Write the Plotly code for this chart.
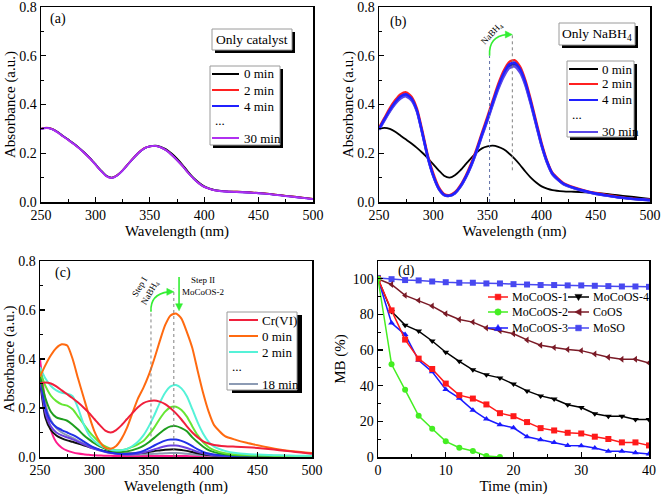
import plotly.graph_objects as go

# Canvas 661x495; the page's default body margin is removed after plotting (post_script),
# so layout positions below are given directly in canvas pixels.
W, H = 661, 495
OX, OY = 0, 0
FW, FH = W - OX, H - OY
FONT = "Liberation Serif, Times New Roman, DejaVu Serif, serif"

# ---------------- data ----------------
wl = [250, 255, 260, 265, 270, 275, 280, 285, 290, 295, 300, 305, 310, 315, 320, 325, 330, 335, 340, 345,
      350, 355, 360, 365, 370, 375, 380, 385, 390, 395, 400, 405, 410, 420, 430, 440, 450, 460, 470, 480, 490, 500]

# (a) only catalyst
a_0min = [.300, .304, .300, .288, .272, .256, .240, .222, .202, .180, .155, .130, .108, .100, .110, .130, .155, .180, .203, .220,
          .228, .231, .226, .216, .199, .178, .153, .125, .100, .080, .064, .055, .049, .044, .042, .040, .037, .033, .028, .023, .018, .013]
a_2min = [.301, .305, .300, .287, .271, .255, .239, .221, .201, .179, .154, .129, .107, .099, .110, .130, .156, .181, .204, .221,
          .228, .230, .224, .212, .194, .172, .148, .121, .097, .077, .062, .054, .048, .044, .042, .040, .037, .033, .028, .023, .018, .013]
a_4min = [.300, .304, .299, .287, .271, .255, .239, .221, .201, .179, .154, .129, .107, .099, .109, .129, .155, .180, .203, .220,
          .228, .230, .224, .212, .194, .172, .148, .121, .097, .077, .062, .054, .048, .043, .041, .039, .036, .032, .027, .022, .017, .012]
a_30min = [.300, .303, .299, .286, .270, .254, .238, .220, .200, .178, .153, .128, .106, .099, .109, .129, .155, .180, .203, .220,
           .228, .230, .224, .212, .194, .172, .148, .121, .097, .077, .062, .054, .048, .043, .041, .039, .036, .032, .027, .022, .017, .012]
a_labels = ["0 min", "2 min", "4 min", "...", "30 min"]
a_colors = ["black", "#FF2020", "#2020FF", None, "#B030F0"]

# (b) only NaBH4
b_0min = a_0min
b_2min = [.305, .345, .385, .418, .442, .450, .432, .383, .292, .192, .118, .062, .033, .028, .040, .068, .108, .158, .218, .285,
          .350, .418, .484, .538, .574, .582, .556, .500, .420, .330, .242, .170, .120, .078, .060, .047, .037, .029, .022, .016, .012, .009]
b_4min = [.300, .340, .378, .410, .434, .442, .425, .376, .284, .186, .110, .057, .030, .026, .037, .064, .103, .152, .212, .278,
          .342, .410, .475, .528, .564, .572, .547, .492, .412, .323, .236, .166, .117, .076, .058, .045, .035, .027, .020, .015, .011, .008]
b_mid = [.298, .337, .374, .406, .430, .438, .420, .373, .281, .183, .108, .055, .029, .025, .036, .062, .101, .150, .208, .274,
         .337, .404, .468, .520, .556, .564, .540, .485, .406, .318, .232, .163, .115, .074, .057, .044, .034, .026, .019, .014, .010, .007]
b_30min = [.296, .334, .371, .402, .425, .433, .416, .370, .278, .181, .106, .054, .028, .025, .035, .061, .099, .147, .205, .270,
           .333, .399, .462, .513, .548, .556, .532, .479, .401, .314, .229, .161, .113, .073, .056, .043, .033, .026, .019, .014, .010, .007]
b_labels = ["0 min", "2 min", "4 min", "...", "30 min"]
b_colors = ["black", "#FF2020", "#2020FF", None, "#5A48E8"]

# (c) Cr(VI) reduction with NaBH4 + MoCoOS-2
c_cr = a_0min
c_0min = [.328, .375, .415, .445, .460, .455, .400, .320, .245, .170, .105, .062, .038, .034, .045, .075, .120, .180, .238, .282,
          .335, .400, .472, .538, .578, .586, .565, .510, .445, .350, .260, .185, .130, .085, .070, .058, .048, .039, .031, .025, .020, .016]
c_2min = [.367, .320, .290, .272, .262, .258, .248, .200, .135, .090, .065, .048, .037, .030, .027, .028, .033, .045, .062, .088,
          .125, .170, .220, .262, .288, .294, .280, .248, .195, .140, .095, .062, .042, .025, .016, .012, .010, .008, .007, .006, .005, .005]
c_4min = [.350, .290, .250, .228, .215, .210, .195, .165, .135, .105, .080, .058, .043, .033, .028, .028, .033, .042, .052, .065,
          .090, .120, .155, .185, .203, .205, .192, .165, .125, .088, .060, .040, .028, .015, .010, .008, .007, .006, .005, .004, .004, .004]
c_6min = [.330, .240, .185, .162, .155, .148, .132, .112, .090, .072, .056, .043, .033, .026, .022, .021, .023, .028, .035, .045,
          .060, .078, .097, .114, .125, .126, .118, .105, .080, .060, .042, .028, .020, .011, .007, .006, .005, .005, .004, .004, .003, .003]
c_8min = [.330, .200, .145, .122, .110, .100, .090, .078, .064, .050, .038, .029, .022, .017, .014, .012, .012, .014, .018, .025,
          .035, .047, .058, .067, .071, .071, .066, .057, .044, .031, .021, .014, .010, .006, .004, .004, .003, .003, .003, .003, .003, .003]
c_10min = [.320, .180, .125, .100, .088, .080, .072, .062, .052, .042, .033, .026, .020, .016, .013, .011, .010, .011, .013, .018,
           .024, .031, .038, .044, .047, .047, .043, .037, .029, .021, .015, .010, .007, .004, .003, .003, .003, .002, .002, .002, .002, .002]
c_12min = [.310, .160, .110, .088, .076, .068, .062, .055, .048, .041, .035, .029, .024, .020, .017, .015, .014, .014, .015, .017,
           .020, .024, .027, .030, .031, .031, .029, .025, .020, .015, .011, .008, .006, .004, .003, .002, .002, .002, .002, .002, .002, .002]
c_18min = [.330, .210, .150, .118, .100, .088, .078, .066, .055, .045, .036, .029, .023, .018, .015, .012, .011, .010, .010, .011,
           .012, .013, .014, .015, .016, .016, .015, .013, .011, .009, .007, .006, .005, .004, .003, .003, .003, .003, .003, .003, .003, .003]
c_pink = [.400, .220, .110, .060, .038, .026, .019, .014, .011, .009, .007, .006, .005, .005, .004, .004, .004, .004, .004, .004,
          .004, .004, .004, .004, .004, .004, .004, .004, .003, .003, .003, .003, .003, .003, .003, .002, .002, .002, .002, .002, .002, .002]
c_labels = ["Cr(VI)", "0 min", "2 min", "...", "18 min"]
c_colors = ["#F0203C", "#FF6A10", "#55F2D8", None, "#8C9BB4"]

# (d) MB degradation
t = [0, 2, 4, 6, 8, 10, 12, 14, 16, 18, 20, 22, 24, 26, 28, 30, 32, 34, 36, 38, 40]
mb1 = [100, 82.3, 65.9, 55.2, 49.4, 41.2, 34.7, 32.8, 29.5, 24.6, 22.9, 19.6, 16.2, 14.9, 13.6, 13.2, 11.4, 10.1, 8.2, 8.2, 6.5]
mb2 = [100, 52.0, 37.7, 23.1, 15.9, 8.8, 5.2, 3.4, 0.6, 0.0]
mb3 = [100, 75.2, 68.7, 54.3, 47.8, 37.9, 33.0, 26.3, 21.3, 18.1, 16.4, 11.4, 9.7, 8.2, 6.5, 6.3, 5.0, 3.2, 3.2, 2.4, 1.7]
mb4 = [100, 81.7, 74.0, 70.7, 65.1, 58.8, 53.7, 48.9, 46.1, 44.4, 40.9, 37.1, 34.3, 32.5, 29.3, 27.8, 24.3, 22.9, 22.9, 21.1, 21.1]
coos = [100, 96.8, 90.7, 87.9, 84.7, 80.4, 77.2, 75.7, 72.4, 70.9, 69.2, 65.7, 62.7, 61.4, 60.3, 59.7, 57.8, 56.0, 54.9, 54.9, 52.8]
moso = [100.5, 99.8, 99.3, 99.1, 98.5, 98.1, 97.8, 97.8, 97.4, 97.4, 97.0, 96.8, 96.5, 96.5, 96.3, 96.3, 96.1, 95.9, 95.7, 95.7, 95.5]
d_names = ["MoCoOS-1", "MoCoOS-2", "MoCoOS-3", "MoCoOS-4", "CoOS", "MoSO"]
d_colors = ["#FF1A1A", "#44EE22", "#1A1AFF", "black", "#7A1A26", "#4848F0"]
d_symbols = ["square", "circle", "triangle-up", "triangle-down", "triangle-left", "square"]


def px(x):
    return (x - OX) / FW


def py(y):
    return 1 - (y - OY) / FH


fig = go.Figure()


def spec(x, y, name, color, xa, ya, width=1.8):
    fig.add_trace(go.Scatter(x=x, y=y, mode="lines", name=name, showlegend=False,
                             line=dict(color=color, width=width, shape="spline", smoothing=0.6),
                             xaxis=xa, yaxis=ya))


# (a)
spec(wl, a_0min, a_labels[0], a_colors[0], "x", "y")
spec(wl, a_2min, a_labels[1], a_colors[1], "x", "y")
spec(wl, a_4min, a_labels[2], a_colors[2], "x", "y")
spec(wl, a_30min, a_labels[4], a_colors[4], "x", "y")

# (b)
spec(wl, b_0min, b_labels[0], b_colors[0], "x2", "y2")
spec(wl, b_2min, b_labels[1], b_colors[1], "x2", "y2", width=2.4)
spec(wl, b_mid, "intermediate", "#2828B0", "x2", "y2", width=2.4)
spec(wl, b_30min, b_labels[4], b_colors[4], "x2", "y2", width=2.4)
spec(wl, b_4min, b_labels[2], b_colors[2], "x2", "y2", width=2.4)

# (c)
spec(wl, c_pink, "late", "#FF1A8C", "x3", "y3", width=2)
spec(wl, c_18min, c_labels[4], c_colors[4], "x3", "y3", width=2)
spec(wl, c_12min, "12 min", "#111111", "x3", "y3", width=2)
spec(wl, c_10min, "10 min", "#6A40E0", "x3", "y3", width=2)
spec(wl, c_8min, "8 min", "#2030E8", "x3", "y3", width=2)
spec(wl, c_6min, "6 min", "#1E9E1E", "x3", "y3", width=2)
spec(wl, c_4min, "4 min", "#66E633", "x3", "y3", width=2)
spec(wl, c_2min, c_labels[2], c_colors[2], "x3", "y3", width=2)
spec(wl, c_0min, c_labels[1], c_colors[1], "x3", "y3", width=2)
spec(wl, c_cr, c_labels[0], c_colors[0], "x3", "y3", width=2)

# (d)
for yv, nm, col, sym in [(moso, d_names[5], d_colors[5], d_symbols[5]), (coos, d_names[4], d_colors[4], d_symbols[4]),
                         (mb4, d_names[3], d_colors[3], d_symbols[3]), (mb3, d_names[2], d_colors[2], d_symbols[2]),
                         (mb1, d_names[0], d_colors[0], d_symbols[0]), (mb2, d_names[1], d_colors[1], d_symbols[1])]:
    fig.add_trace(go.Scatter(x=t[:len(yv)], y=yv, mode="lines+markers", name=nm, showlegend=False,
                             line=dict(color=col, width=1.5), marker=dict(symbol=sym, size=6, color=col),
                             xaxis="x4", yaxis="y4"))

# ---------------- axes ----------------
doms = {
    "a": ([41, 313], [7, 202]),
    "b": ([379, 650], [7, 202]),
    "c": ([40, 312], [261, 457]),
    "d": ([378, 649], [261, 457]),
}


def xdom(k):
    return [max(0, px(doms[k][0][0])), min(1, px(doms[k][0][1]))]


def ydom(k):
    return [max(0, py(doms[k][1][1])), min(1, py(doms[k][1][0]))]


tickfont = dict(family=FONT, size=14, color="black")
titlefont = dict(family=FONT, size=15, color="black")

common = dict(showline=True, linecolor="black", linewidth=1.5, mirror=True, ticks="inside", ticklen=5, tickwidth=1.2,
              tickcolor="black", showgrid=False, zeroline=False, tickfont=tickfont, automargin=False,
              ticklabeloverflow="allow")


def minor(d, t0=0):
    return dict(ticks="inside", ticklen=3, tickwidth=1, tickcolor="black", dtick=d, tick0=t0, showgrid=False)


def wl_axis(k, anchor, standoff):
    return dict(domain=xdom(k), range=[250, 500], tickvals=[250, 300, 350, 400, 450, 500], minor=minor(25, 250),
                title=dict(text="Wavelength (nm)", font=titlefont, standoff=standoff), anchor=anchor, **common)


def abs_axis(k, anchor):
    return dict(domain=ydom(k), range=[0, 0.8], tickvals=[0, 0.2, 0.4, 0.6, 0.8], ticktext=["0.0", "0.2", "0.4", "0.6", "0.8"],
                minor=minor(0.1), title=dict(text="Absorbance (a.u.)", font=titlefont, standoff=0), anchor=anchor, **common)


fig.update_layout(
    xaxis=wl_axis("a", "y", 2), yaxis=abs_axis("a", "x"),
    xaxis2=wl_axis("b", "y2", 2), yaxis2=abs_axis("b", "x2"),
    xaxis3=wl_axis("c", "y3", 0), yaxis3=abs_axis("c", "x3"),
    xaxis4=dict(domain=xdom("d"), range=[0, 40], tickvals=[0, 10, 20, 30, 40], anchor="y4", minor=minor(5),
                title=dict(text="Time (min)", font=titlefont, standoff=0), **common),
    yaxis4=dict(domain=ydom("d"), range=[0, 110], tickvals=[0, 20, 40, 60, 80, 100], anchor="x4", minor=minor(10),
                title=dict(text="MB (%)", font=titlefont, standoff=3), **common),
)

shapes = []
annos = []


def box(x0, y0, x1, y1, d=3, dx=None):
    dx = d if dx is None else dx
    shapes.append(dict(type="rect", xref="paper", yref="paper", x0=px(x0 + dx), x1=px(x1 + dx), y0=py(y1 + d), y1=py(y0 + d),
                       fillcolor="black", line=dict(width=0), layer="above"))
    shapes.append(dict(type="rect", xref="paper", yref="paper", x0=px(x0), x1=px(x1), y0=py(y1), y1=py(y0),
                       fillcolor="white", line=dict(color="#9A9A9A", width=1), layer="above"))


def text(x, y, s, size=13, xanchor="left"):
    annos.append(dict(xref="paper", yref="paper", x=px(x), y=py(y), text=s, showarrow=False, xanchor=xanchor, yanchor="middle",
                      font=dict(family=FONT, size=size, color="black")))


def legend(labels, colors, rows, lx0, lx1, tx, dots_x):
    for lab, col, ry in zip(labels, colors, rows):
        if col is None:
            text(dots_x, ry - 3, lab)
        else:
            shapes.append(dict(type="line", xref="paper", yref="paper", x0=px(lx0), x1=px(lx1), y0=py(ry), y1=py(ry),
                               line=dict(color=col, width=2), layer="above"))
            text(tx, ry, lab)


# (a) info box + legend
box(212, 29, 292, 50, d=3)
text(252, 40, "Only catalyst", size=13.5, xanchor="center")
box(210, 66, 280, 145, d=3)
legend(a_labels, a_colors, [74, 90, 106, 123, 138], 212, 239, 242, 213)

# (b) info box + legend
box(559, 23, 635, 45, d=3)
text(597, 34, "Only NaBH<sub>4</sub>", size=13.5, xanchor="center")
box(567, 61, 634, 137, d=3)
legend(b_labels, b_colors, [69, 84, 100, 117, 132], 569, 598, 600, 570)

# (c) legend
box(227, 312, 297, 390, d=3, dx=5)
legend(c_labels, c_colors, [320, 336, 352, 369, 384], 229, 258, 260, 230)


# (d) legend (two columns, no frame)
def marker_shape(sym, cx, cy, col, r=3.2):
    base = dict(xref="paper", yref="paper", xsizemode="pixel", ysizemode="pixel", xanchor=px(cx), yanchor=py(cy),
                fillcolor=col, line=dict(color=col, width=0.5), layer="above")
    if sym == "circle":
        shapes.append(dict(type="circle", x0=-r, x1=r, y0=-r, y1=r, **base))
    elif sym == "square":
        shapes.append(dict(type="rect", x0=-r * 0.9, x1=r * 0.9, y0=-r * 0.9, y1=r * 0.9, **base))
    else:
        p = {"triangle-up": "M-3.6,-2.6 L3.6,-2.6 L0,3.6 Z",
             "triangle-down": "M-3.6,2.6 L3.6,2.6 L0,-3.6 Z",
             "triangle-left": "M2.6,-3.6 L2.6,3.6 L-3.6,0 Z"}[sym]
        shapes.append(dict(type="path", path=p, **base))


d_rows = [297, 312, 328]
for i, (nm, col, sym) in enumerate(zip(d_names, d_colors, d_symbols)):
    lx0, lx1, tx = (488, 508, 510) if i < 3 else (568, 589, 591)
    ry = d_rows[i % 3]
    shapes.append(dict(type="line", xref="paper", yref="paper", x0=px(lx0), x1=px(lx1), y0=py(ry), y1=py(ry),
                       line=dict(color=col, width=1.5), layer="above"))
    marker_shape(sym, (lx0 + lx1) / 2, ry, col)
    text(tx, ry, nm, size=12)

# panel labels
for xr, yr, xv, yv, lab in [("x", "y", 266, 0.75, "(a)"), ("x2", "y2", 268, 0.74, "(b)"),
                            ("x3", "y3", 271, 0.75, "(c)"), ("x4", "y4", 4.2, 104.6, "(d)")]:
    annos.append(dict(xref=xr, yref=yr, x=xv, y=yv, text=lab, showarrow=False, font=dict(family=FONT, size=14, color="black")))

GREEN = "#33EE33"


def head(xr, yr, x, y, path):
    shapes.append(dict(type="path", xref=xr, yref=yr, xsizemode="pixel", ysizemode="pixel", xanchor=x, yanchor=y,
                       path=path, fillcolor=GREEN, line=dict(color=GREEN, width=0.5)))


RIGHT = "M0,0 L-7,3.5 L-7,-3.5 Z"
DOWN = "M0,0 L-3.5,7 L3.5,7 Z"

# (b) guide lines and arrow
shapes.append(dict(type="line", xref="x2", yref="y2", x0=352, x1=352, y0=0, y1=0.6, line=dict(color="#6070A8", width=1, dash="dot")))
shapes.append(dict(type="line", xref="x2", yref="y2", x0=373, x1=373, y0=0.13, y1=0.685, line=dict(color="#808080", width=1, dash="dot")))
shapes.append(dict(type="path", xref="x2", yref="y2", path="M352,0.6 Q351,0.68 368,0.687", line=dict(color=GREEN, width=1.6)))
head("x2", "y2", 373, 0.687, RIGHT)
annos.append(dict(xref="x2", yref="y2", x=354.5, y=0.69, text="NaBH<sub>4</sub>", showarrow=False, textangle=-47,
                  font=dict(family=FONT, size=9, color="black")))

# (c) guide lines and arrows
shapes.append(dict(type="line", xref="x3", yref="y3", x0=352, x1=352, y0=0.084, y1=0.6, line=dict(color="#808080", width=1, dash="dot")))
shapes.append(dict(type="line", xref="x3", yref="y3", x0=373, x1=373, y0=0, y1=0.688, line=dict(color="#808080", width=1, dash="dot")))
shapes.append(dict(type="path", xref="x3", yref="y3", path="M352,0.593 Q351,0.665 368,0.674", line=dict(color=GREEN, width=1.6)))
head("x3", "y3", 373, 0.674, RIGHT)
shapes.append(dict(type="line", xref="x3", yref="y3", x0=377.8, x1=377.8, y0=0.735, y1=0.62, line=dict(color=GREEN, width=1.6)))
head("x3", "y3", 377.8, 0.597, DOWN)
annos.append(dict(xref="x3", yref="y3", x=347, y=0.683, text="Step I<br>NaBH<sub>4</sub>", showarrow=False, textangle=-60,
                  font=dict(family=FONT, size=9, color="black")))
annos.append(dict(xref="x3", yref="y3", x=400, y=0.697, text="Step II<br>MoCoOS-2", showarrow=False,
                  font=dict(family=FONT, size=9, color="black")))

fig.update_layout(shapes=shapes, annotations=annos, width=FW, height=FH, margin=dict(l=0, r=0, t=0, b=0),
                  paper_bgcolor="white", plot_bgcolor="white", font=dict(family=FONT, color="black"), showlegend=False,
                  hovermode=False)

fig.write_html("out.html", config={"displayModeBar": False, "staticPlot": True},
               post_script="document.body.style.margin='0px';")
